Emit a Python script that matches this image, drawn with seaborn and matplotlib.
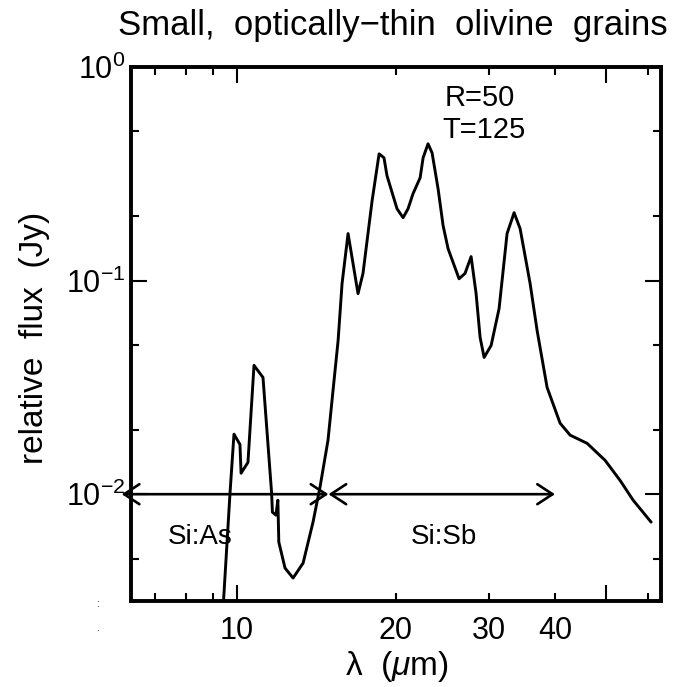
import matplotlib
matplotlib.use("Agg")
import matplotlib.pyplot as plt
import pandas as pd
import seaborn as sns
from matplotlib.ticker import FixedLocator, FixedFormatter

# Model spectrum of small, optically-thin olivine grains
wavelength_um = [9.41, 9.70, 9.87, 10.13, 10.18, 10.49, 10.77, 11.20, 11.63, 11.67,
                 11.85, 11.95, 12.00, 12.33, 12.77, 13.34, 13.93, 14.36, 14.87, 15.20,
                 15.54, 15.81, 16.23, 16.95, 17.32, 18.02, 18.58, 18.98, 19.23, 20.09,
                 20.63, 21.08, 21.54, 22.22, 22.51, 23.00, 23.41, 24.03, 24.56, 25.10,
                 26.33, 27.02, 27.75, 28.36, 28.86, 29.37, 30.28, 31.35, 32.46, 33.47,
                 34.36, 35.89, 37.00, 38.65, 40.90, 42.73, 46.02, 49.77, 53.13, 56.23,
                 60.82]
relative_flux_jy = [0.0029, 0.0101, 0.0191, 0.0171, 0.01254, 0.0141, 0.0401, 0.0352, 0.0101, 0.00824,
                    0.00798, 0.00938, 0.00597, 0.00451, 0.00405, 0.00476, 0.00740, 0.01078, 0.01788, 0.0306,
                    0.0524, 0.0969, 0.166, 0.0869, 0.108, 0.236, 0.392, 0.376, 0.310, 0.217,
                    0.197, 0.217, 0.255, 0.303, 0.376, 0.437, 0.396, 0.269, 0.181, 0.141,
                    0.102, 0.108, 0.1295, 0.0869, 0.0542, 0.0437, 0.0497, 0.0740, 0.166, 0.208,
                    0.175, 0.0969, 0.0584, 0.0316, 0.0215, 0.0189, 0.0173, 0.0144, 0.0116, 0.00938,
                    0.00740]

x_major_ticks = [10, 50]
x_major_labels = ["10", ""]
x_minor_ticks = [7, 8, 9, 20, 30, 40, 60]
x_minor_labels = ["", "", "", "20", "30", "40", ""]
y_major_ticks = [0.01, 0.1, 1.0]
y_major_labels = [r"$10^{-2}$", r"$10^{-1}$", r"$10^{0}$"]
y_minor_ticks = [0.005, 0.02, 0.05, 0.2, 0.5]

band_names = ["Si:As", "Si:Sb"]
band_edges_um = [6.05, 14.9, 40.0]
band_level_jy = 0.01
model_params = ["R=50", "T=125"]

sns.set_theme(style="ticks")
plt.rcParams["font.family"] = ["Liberation Sans", "DejaVu Sans"]
plt.rcParams["mathtext.fontset"] = "custom"
plt.rcParams["mathtext.rm"] = "Liberation Sans"
plt.rcParams["mathtext.it"] = "Liberation Sans:italic"
plt.rcParams["mathtext.default"] = "regular"
plt.rcParams["text.color"] = "black"
plt.rcParams["axes.labelcolor"] = "black"

W, H = 683, 687
fig = plt.figure(figsize=(W / 100, H / 100), dpi=100)
fig.patch.set_facecolor("white")
ax = fig.add_axes([131 / W, 1 - 601 / H, 530 / W, 534 / H])
ax.set_facecolor("white")

df = pd.DataFrame({"wavelength": wavelength_um, "flux": relative_flux_jy})
sns.lineplot(data=df, x="wavelength", y="flux", ax=ax, color="black",
             linewidth=2.1, estimator=None, sort=False)

ax.set_xscale("log")
ax.set_yscale("log")
ax.set_xlim(6.3, 63.5)
ax.set_ylim(10 ** -2.5, 1.0)

ax.xaxis.set_major_locator(FixedLocator(x_major_ticks))
ax.xaxis.set_major_formatter(FixedFormatter(x_major_labels))
ax.xaxis.set_minor_locator(FixedLocator(x_minor_ticks))
ax.xaxis.set_minor_formatter(FixedFormatter(x_minor_labels))
ax.yaxis.set_major_locator(FixedLocator(y_major_ticks))
ax.yaxis.set_major_formatter(FixedFormatter(y_major_labels))
ax.yaxis.set_minor_locator(FixedLocator(y_minor_ticks))
ax.yaxis.set_minor_formatter(FixedFormatter([""] * len(y_minor_ticks)))

ax.tick_params(which="both", direction="in", top=True, right=True,
               width=1.5, color="black", labelcolor="black", labelsize=22)
ax.tick_params(which="major", length=11.5)
ax.tick_params(which="minor", length=5.8)
ax.tick_params(axis="x", which="both", pad=11)
ax.tick_params(axis="y", which="both", pad=4)
for s in ax.spines.values():
    s.set_linewidth(2.8)
    s.set_color("black")
ax.set_xlabel("")
ax.set_ylabel("")

# detector band arrows
arrow_kw = dict(arrowstyle="<->,head_length=0.55,head_width=0.36", color="black",
                lw=1.9, shrinkA=0, shrinkB=0, mutation_scale=20)
for i in range(2):
    ax.annotate("", xy=(band_edges_um[i], band_level_jy),
                xytext=(band_edges_um[i + 1], band_level_jy),
                arrowprops=arrow_kw, annotation_clip=False)
ax.text(8.51, 0.0063, band_names[0], fontsize=20, ha="center", va="center")
ax.text(24.66, 0.0063, band_names[1], fontsize=20, ha="center", va="center")

ax.text(24.7, 0.716, model_params[0], fontsize=21, ha="left", va="center")
ax.text(24.5, 0.508, model_params[1], fontsize=21, ha="left", va="center")

fig.text(393 / W, 1 - 35 / H, "Small,  optically\u2212thin  olivine  grains",
         fontsize=25, ha="center", va="baseline")
fig.text(397 / W, 1 - 667 / H, "\u03bb  ($\\mathit{\u03bc}$m)", fontsize=24,
         ha="center", va="center")
fig.text(35 / W, 1 - 338 / H, "relative  flux  (Jy)", fontsize=24, ha="center",
         va="center", rotation=90)
fig.text(97 / W, 1 - 604 / H, ":", fontsize=7, ha="center", va="center")
fig.text(97 / W, 1 - 628 / H, ".", fontsize=7, ha="center", va="center")

fig.savefig("out.png", dpi=100, facecolor="white")
